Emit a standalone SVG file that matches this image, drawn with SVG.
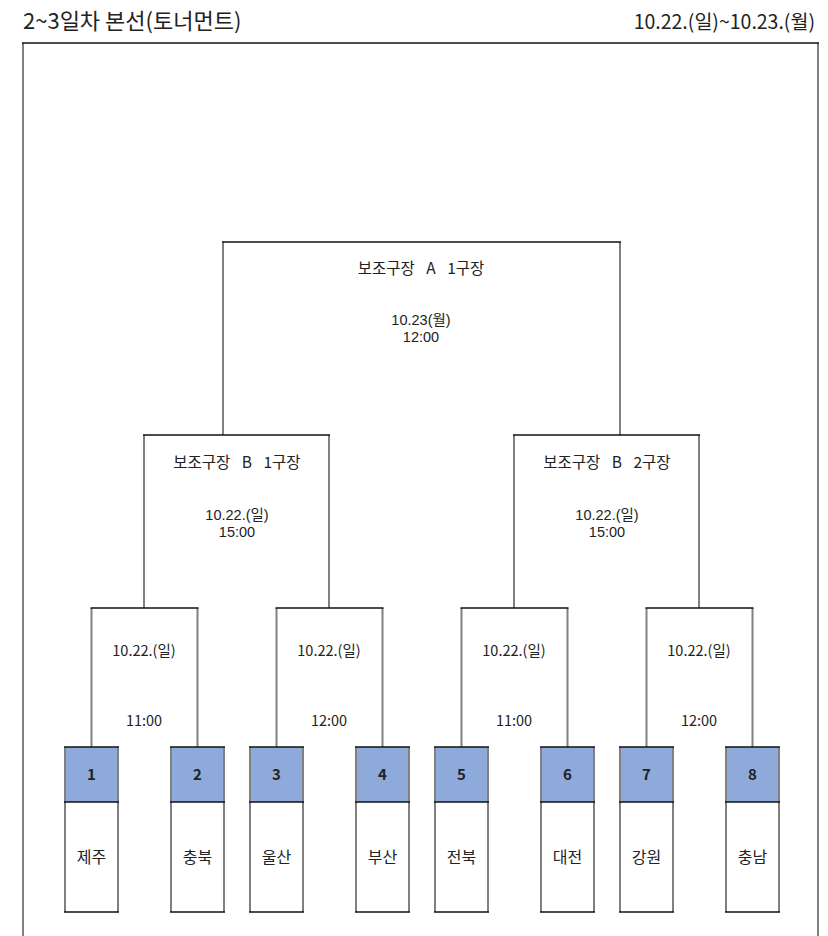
<svg xmlns="http://www.w3.org/2000/svg" width="828" height="936" viewBox="0 0 828 936">
<style>
text{font-family:"Noto Sans CJK KR","Noto Sans",sans-serif;fill:#222;text-anchor:middle}
.hdr{font-size:22px;text-anchor:start}
.hdrr{font-size:19.5px;text-anchor:end}
.t{font-size:15.5px;word-spacing:8px}
.d{font-size:14.5px}
.d2{font-size:14.5px;font-family:"Liberation Sans","Noto Sans CJK KR",sans-serif}
.num{font-size:15px;font-weight:bold}
.nm{font-size:16px}
.h{stroke:#111;stroke-width:1.5;fill:none}
.v{stroke:#808080;stroke-width:2;fill:none}
.blue{fill:#8eaadb}
.white{fill:#fff}
</style>
<rect width="828" height="936" fill="#fff"/>
<g id="header">
<text class="hdr" x="23" y="29">2~3일차 본선(토너먼트)</text>
<text class="hdrr" x="815" y="29">10.22.(일)~10.23.(월)</text>
</g>
<g id="frame">
<line class="v" x1="23" y1="43" x2="23" y2="936"/>
<line class="v" x1="818" y1="43" x2="818" y2="936"/>
<line class="h" x1="22" y1="43" x2="819" y2="43"/>
</g>
<g id="connectors">
<line class="v" x1="223" y1="242" x2="223" y2="435"/>
<line class="v" x1="620" y1="242" x2="620" y2="435"/>
<line class="h" x1="222" y1="242" x2="621" y2="242"/>
<line class="v" x1="144" y1="435" x2="144" y2="608"/>
<line class="v" x1="329" y1="435" x2="329" y2="608"/>
<line class="h" x1="143" y1="435" x2="330" y2="435"/>
<line class="v" x1="514" y1="435" x2="514" y2="608"/>
<line class="v" x1="699" y1="435" x2="699" y2="608"/>
<line class="h" x1="513" y1="435" x2="700" y2="435"/>
<line class="v" x1="91.5" y1="608" x2="91.5" y2="747"/>
<line class="v" x1="197.5" y1="608" x2="197.5" y2="747"/>
<line class="h" x1="90.5" y1="608" x2="198.5" y2="608"/>
<line class="v" x1="276.5" y1="608" x2="276.5" y2="747"/>
<line class="v" x1="382.5" y1="608" x2="382.5" y2="747"/>
<line class="h" x1="275.5" y1="608" x2="383.5" y2="608"/>
<line class="v" x1="461.5" y1="608" x2="461.5" y2="747"/>
<line class="v" x1="567.5" y1="608" x2="567.5" y2="747"/>
<line class="h" x1="460.5" y1="608" x2="568.5" y2="608"/>
<line class="v" x1="646.5" y1="608" x2="646.5" y2="747"/>
<line class="v" x1="752.5" y1="608" x2="752.5" y2="747"/>
<line class="h" x1="645.5" y1="608" x2="753.5" y2="608"/>
</g>
<g id="final">
<text class="t" x="421" y="274">보조구장 A 1구장</text>
<text class="d2" x="421" y="325">10.23(월)</text>
<text class="d2" x="421" y="342">12:00</text>
</g>
<g id="semi1">
<text class="t" x="237" y="468">보조구장 B 1구장</text>
<text class="d2" x="237" y="520">10.22.(일)</text>
<text class="d2" x="237" y="537">15:00</text>
</g>
<g id="semi2">
<text class="t" x="607" y="468">보조구장 B 2구장</text>
<text class="d2" x="607" y="520">10.22.(일)</text>
<text class="d2" x="607" y="537">15:00</text>
</g>
<g id="q1"><text class="d" x="144" y="656">10.22.(일)</text><text class="d" x="144" y="726">11:00</text></g>
<g id="q2"><text class="d" x="329" y="656">10.22.(일)</text><text class="d" x="329" y="726">12:00</text></g>
<g id="q3"><text class="d" x="514" y="656">10.22.(일)</text><text class="d" x="514" y="726">11:00</text></g>
<g id="q4"><text class="d" x="699" y="656">10.22.(일)</text><text class="d" x="699" y="726">12:00</text></g>
<defs>
<g id="teambox">
<rect class="blue" x="0" y="0" width="53" height="55"/>
<rect class="white" x="0" y="55" width="53" height="110"/>
<line class="v" x1="0" y1="0" x2="0" y2="165"/>
<line class="v" x1="53" y1="0" x2="53" y2="165"/>
<line class="h" x1="-1" y1="0" x2="54" y2="0"/>
<line class="h" x1="-1" y1="55" x2="54" y2="55"/>
<line class="h" x1="-1" y1="165" x2="54" y2="165"/>
</g>
</defs>
<g id="team1"><use href="#teambox" x="65" y="747"/><text class="num" x="91.5" y="780">1</text><text class="nm" x="91.5" y="863">제주</text></g>
<g id="team2"><use href="#teambox" x="171" y="747"/><text class="num" x="197.5" y="780">2</text><text class="nm" x="197.5" y="863">충북</text></g>
<g id="team3"><use href="#teambox" x="250" y="747"/><text class="num" x="276.5" y="780">3</text><text class="nm" x="276.5" y="863">울산</text></g>
<g id="team4"><use href="#teambox" x="356" y="747"/><text class="num" x="382.5" y="780">4</text><text class="nm" x="382.5" y="863">부산</text></g>
<g id="team5"><use href="#teambox" x="435" y="747"/><text class="num" x="461.5" y="780">5</text><text class="nm" x="461.5" y="863">전북</text></g>
<g id="team6"><use href="#teambox" x="541" y="747"/><text class="num" x="567.5" y="780">6</text><text class="nm" x="567.5" y="863">대전</text></g>
<g id="team7"><use href="#teambox" x="620" y="747"/><text class="num" x="646.5" y="780">7</text><text class="nm" x="646.5" y="863">강원</text></g>
<g id="team8"><use href="#teambox" x="726" y="747"/><text class="num" x="752.5" y="780">8</text><text class="nm" x="752.5" y="863">충남</text></g>
</svg>
